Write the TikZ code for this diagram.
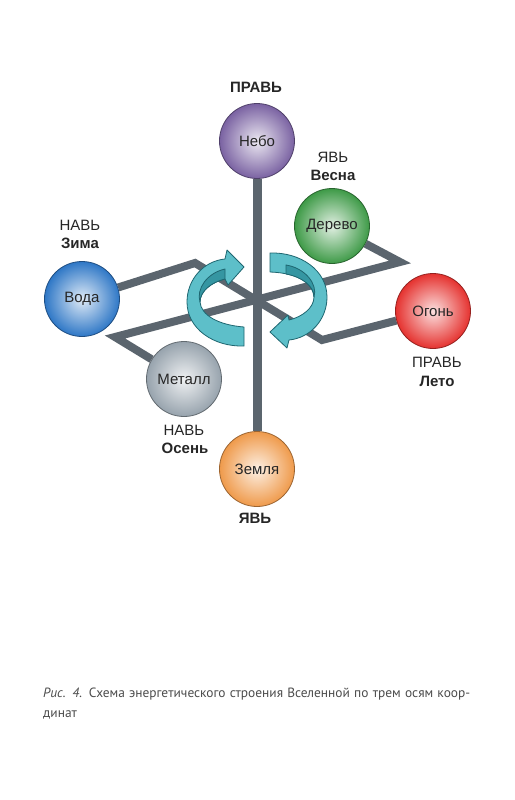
\documentclass[tikz,border=0pt]{standalone}
\usepackage{fontspec}
\setmainfont{Liberation Sans}
\newfontfamily\capfont{PT Sans}
\usetikzlibrary{backgrounds}
\definecolor{axisgray}{HTML}{5B656E}
\definecolor{teal1}{HTML}{5DBFC9}
\definecolor{teal2}{HTML}{3596A2}
\definecolor{tealedge}{HTML}{1E6670}
\definecolor{nebo}{HTML}{7A62A2}
\definecolor{derevo}{HTML}{3E9A47}
\definecolor{voda}{HTML}{2E77C6}
\definecolor{ogon}{HTML}{E5322F}
\definecolor{metall}{HTML}{97A3AD}
\definecolor{zemlya}{HTML}{EF9A4B}
\tikzset{orb/.style={circle,minimum size=75pt,inner sep=0pt,draw=#1!65!black,line width=.8pt,
  inner color=#1!15!white,outer color=#1,font=\fontsize{15}{15}\selectfont,text=black!85},
 wire/.style={draw=axisgray,line width=8pt,line join=miter},
 ribbon/.style={fill=teal1,draw=tealedge,line width=.8pt,line join=round},
 txt/.style={font=\fontsize{15}{15}\selectfont,text=black!85},
 txtb/.style={font=\fontsize{15}{15}\selectfont\bfseries,text=black!85}}

\begin{document}
\begin{tikzpicture}[x=1pt,y=-1pt]
\useasboundingbox (0,0) rectangle (514,800);
% turning arrows
\draw[ribbon] (244,346) .. controls (214,347) and (187,329) .. (187,302) .. controls (187,279) and (204,261) .. (225,259)
 -- (227,250) -- (244,267) -- (228,285) -- (225,279) .. controls (212,282) and (200,291) .. (200,302)
 .. controls (201,315) and (218,325) .. (244,327) -- cycle;
\draw[ribbon,fill=teal2] (225,279) .. controls (212,282) and (200,291) .. (200,302) .. controls (196,289) and (207,273) .. (225,269) -- cycle;
\draw[ribbon] (270,253) .. controls (300,252) and (327,270) .. (327,297) .. controls (327,320) and (310,338) .. (289,340)
 -- (287,348) -- (270,332) -- (288,315) -- (289,320) .. controls (302,317) and (314,308) .. (314,297)
 .. controls (313,283) and (298,273) .. (270,272) -- cycle;
\draw[ribbon,fill=teal2] (286,274) .. controls (302,277) and (314,286) .. (314,297) .. controls (318,284) and (305,268) .. (286,265) -- cycle;
% spheres
\node[orb=nebo] (nebo) at (257,141){Небо};
\node[orb=derevo] (derevo) at (332,226){Дерево};
\node[orb=voda] (voda) at (82,299){Вода};
\node[orb=ogon] (ogon) at (433,311){Огонь};
\node[orb=metall] (metall) at (184,379){Металл};
\node[orb=zemlya] (zemlya) at (257,469){Земля};
% bends of the two cross lines
\coordinate (c1) at (195,263); \coordinate (c2) at (322,340);
\coordinate (c3) at (115,337); \coordinate (c4) at (400,262);
\begin{scope}[on background layer]
\fill[white] (0,0) rectangle (514,800);
\draw[wire] (voda)--(c1)--(c2)--(ogon);
\draw[wire] (metall)--(c3)--(c4)--(derevo);
\draw[wire,line width=9pt] (nebo)--(zemlya);
\end{scope}
% labels
\node[txtb] (pravtop) at (256,87){ПРАВЬ};
\node[txt] (yavtop) at (333,157){ЯВЬ};\node[txtb] (vesna) at (333,175){Весна};
\node[txt] (navtop) at (80,225){НАВЬ};\node[txtb] (zima) at (80,243){Зима};
\node[txt] (pravr) at (437,362){ПРАВЬ};\node[txtb] (leto) at (437,381){Лето};
\node[txt] (navbot) at (184,430){НАВЬ};\node[txtb] (osen) at (185,448){Осень};
\node[txtb] (yavbot) at (255,518){ЯВЬ};
% caption
\node[anchor=north west,align=left,inner sep=0pt,font=\capfont\fontsize{13.4}{20}\selectfont,text=black!70] (cap) at (43,688)
 {\makebox[427pt][s]{\textit{Рис. 4.} Схема энергетического строения Вселенной по трем осям коор-}\\динат};
\end{tikzpicture}
\end{document}
